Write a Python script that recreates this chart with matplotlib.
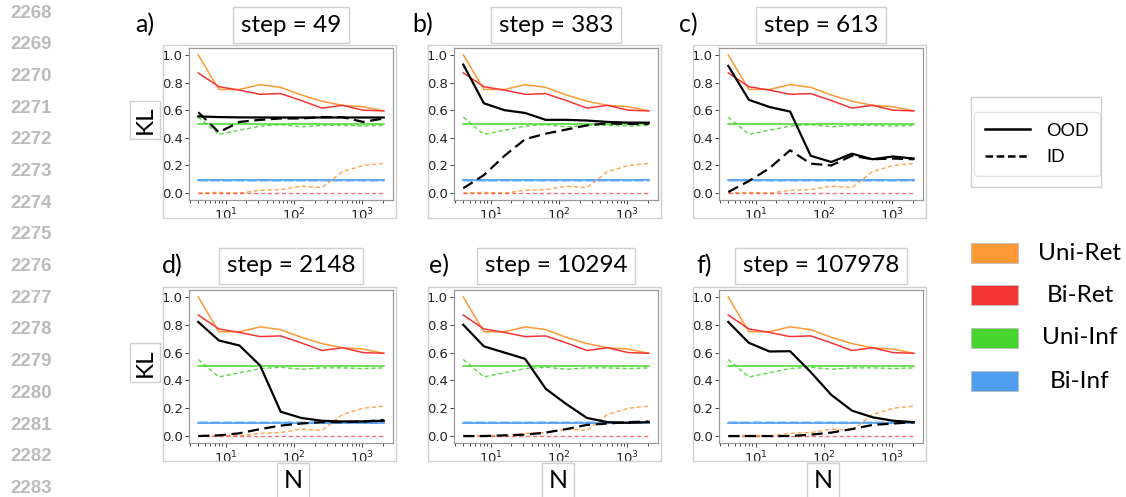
import matplotlib
matplotlib.use('Agg')
import matplotlib.pyplot as plt
from matplotlib.patches import Rectangle
from matplotlib.lines import Line2D

# Tamaño de la figura en pixeles
W, H = 1126, 497

# Datos: KL en funcion de N
N = [4, 8, 16, 32, 64, 128, 256, 512, 1024, 2048]

uni_ret_ood = [1.0, 0.75, 0.75, 0.785, 0.765, 0.71, 0.665, 0.635, 0.625, 0.595]
uni_ret_id = [0.0, 0.005, 0.0, 0.02, 0.025, 0.05, 0.04, 0.155, 0.2, 0.215]
bi_ret_ood = [0.87, 0.77, 0.745, 0.715, 0.72, 0.67, 0.615, 0.635, 0.6, 0.595]
bi_ret_id = [0.0, 0.0, 0.0, 0.0, 0.0, 0.0, 0.0, 0.0, 0.0, 0.0]
uni_inf_ood = [0.5, 0.5, 0.5, 0.5, 0.5, 0.5, 0.5, 0.5, 0.5, 0.5]
uni_inf_id = [0.55, 0.425, 0.455, 0.485, 0.495, 0.48, 0.49, 0.49, 0.485, 0.49]
bi_inf_ood = [0.093, 0.093, 0.093, 0.093, 0.093, 0.093, 0.093, 0.093, 0.093, 0.093]
bi_inf_id = [0.098, 0.098, 0.098, 0.098, 0.098, 0.098, 0.098, 0.098, 0.098, 0.098]

steps = [49, 383, 613, 2148, 10294, 107978]
etiquetas = ['a)', 'b)', 'c)', 'd)', 'e)', 'f)']

ood_a = [0.555, 0.55, 0.548, 0.547, 0.547, 0.547, 0.547, 0.547, 0.547, 0.547]
id_a = [0.585, 0.44, 0.515, 0.53, 0.54, 0.54, 0.55, 0.55, 0.515, 0.54]
ood_b = [0.93, 0.65, 0.6, 0.58, 0.53, 0.53, 0.525, 0.515, 0.51, 0.51]
id_b = [0.035, 0.13, 0.27, 0.39, 0.43, 0.46, 0.49, 0.505, 0.5, 0.5]
ood_c = [0.92, 0.675, 0.623, 0.59, 0.27, 0.225, 0.285, 0.245, 0.265, 0.25]
id_c = [0.008, 0.087, 0.18, 0.31, 0.213, 0.2, 0.27, 0.245, 0.25, 0.245]
ood_d = [0.82, 0.687, 0.651, 0.507, 0.175, 0.13, 0.11, 0.105, 0.105, 0.11]
id_d = [0.0, 0.005, 0.02, 0.05, 0.075, 0.09, 0.1, 0.1, 0.105, 0.115]
ood_e = [0.8, 0.645, 0.6, 0.555, 0.34, 0.23, 0.13, 0.1, 0.095, 0.1]
id_e = [0.0, 0.0, 0.005, 0.01, 0.025, 0.05, 0.08, 0.09, 0.1, 0.105]
ood_f = [0.82, 0.67, 0.608, 0.61, 0.46, 0.296, 0.183, 0.135, 0.11, 0.1]
id_f = [0.0, 0.0, 0.0, 0.0, 0.01, 0.025, 0.05, 0.08, 0.09, 0.1]

curvas_ood = [ood_a, ood_b, ood_c, ood_d, ood_e, ood_f]
curvas_id = [id_a, id_b, id_c, id_d, id_e, id_f]

categorias = ['Uni-Ret', 'Bi-Ret', 'Uni-Inf', 'Bi-Inf']
colores = ['#fd9a35', '#f43535', '#46d52d', '#509eef']

fuente = 'Lato'


def rect_px(x0, y0, x1, y1):
    # pasa una caja en pixeles (origen arriba a la izquierda) a coordenadas de figura
    return (x0 / W, 1 - y1 / H), (x1 - x0) / W, (y1 - y0) / H


def marco(fig, x0, y0, x1, y1, color='#cfcfcf', **kw):
    xy, w, h = rect_px(x0, y0, x1, y1)
    r = Rectangle(xy, w, h, transform=fig.transFigure, fill=False,
                  ec=color, lw=1, **kw)
    fig.add_artist(r)
    return r


fig = plt.figure(figsize=(W / 100, H / 100), dpi=100)

# Numeros de linea a la izquierda
for i in range(16):
    fig.text(10 / W, 1 - (13 + 31.7 * i) / H, str(2268 + i), color='#bbbbbb',
             fontsize=13.5, fontweight='bold', family='Liberation Sans',
             va='center', ha='left')

izquierdas = [189, 454, 719]
arribas = [48, 290]
abajos = [200, 443]
x_etiqueta = [[135, 412, 679], [162, 429, 696]]
y_titulo = [25, 266]

for k in range(6):
    fila, col = k // 3, k % 3
    x0 = izquierdas[col]
    x1 = x0 + 204
    y0, y1 = arribas[fila], abajos[fila]

    # Marco gris alrededor de cada panel
    marco(fig, x0 - 26, y0 - 3, x1 + 3, y1 + 18)

    xy, w, h = rect_px(x0, y0, x1, y1)
    ax = fig.add_axes([xy[0], xy[1], w, h])

    # Lineas de referencia
    ax.plot(N, uni_ret_ood, color=colores[0], lw=1.1)
    ax.plot(N, bi_ret_ood, color=colores[1], lw=1.1)
    ax.plot(N, uni_inf_ood, color=colores[2], lw=1.1)
    ax.plot(N, bi_inf_ood, color=colores[3], lw=1.2)
    ax.plot(N, uni_ret_id, color=colores[0], lw=1, ls=(0, (3, 2)), alpha=0.9)
    ax.plot(N, bi_ret_id, color=colores[1], lw=1, ls=(0, (3, 2)), alpha=0.7)
    ax.plot(N, uni_inf_id, color=colores[2], lw=1, ls=(0, (3, 2)), alpha=0.9)
    ax.plot(N, bi_inf_id, color=colores[3], lw=2.2, ls=(0, (3, 1)), alpha=0.45)

    # Modelo: OOD y ID
    ax.plot(N, curvas_ood[k], color='black', lw=1.6)
    ax.plot(N, curvas_id[k], color='black', lw=1.6, ls=(0, (5, 2.5)))

    ax.set_xscale('log')
    ax.set_yticks([0.0, 0.2, 0.4, 0.6, 0.8, 1.0])
    ax.tick_params(labelsize=9.5, length=3, width=0.6, colors='#222222',
                   pad=1.5)
    ax.tick_params(which='minor', length=1.8, width=0.5)
    for s in ax.spines.values():
        s.set_color('#999999')
        s.set_linewidth(0.9)

    cx = (x0 + x1) / 2
    fig.text(cx / W, 1 - y_titulo[fila] / H, 'step = %d' % steps[k],
             ha='center', va='center', fontsize=17.5, family=fuente,
             zorder=5,
             bbox=dict(boxstyle='square,pad=0.32', fc='white', ec='#d0d0d0',
                       lw=1))
    fig.text(x_etiqueta[fila][col] / W, 1 - y_titulo[fila] / H, etiquetas[k],
             ha='left', va='center', fontsize=18, family=fuente)

    if col == 0:
        fig.text(145 / W, 1 - ((y0 + y1) / 2 - 4) / H, 'KL', rotation=90,
                 ha='center', va='center', fontsize=17.5, family=fuente,
                 bbox=dict(boxstyle='square,pad=0.2', fc='white',
                           ec='#d0d0d0', lw=1))
    if fila == 1:
        fig.text((cx + 2) / W, 1 - 481 / H, 'N', ha='center', va='center',
                 fontsize=18, family=fuente,
                 bbox=dict(boxstyle='square,pad=0.25', fc='white',
                           ec='#d0d0d0', lw=1))

# Leyenda de estilos de linea
marco(fig, 971, 97, 1101, 187)
handles = [Line2D([], [], color='black', lw=1.8),
           Line2D([], [], color='black', lw=1.8, ls=(0, (3, 1.5)))]
fig.legend(handles, ['OOD', 'ID'], loc='center',
           bbox_to_anchor=(1037 / W, 1 - 144 / H),
           prop={'family': fuente, 'size': 13}, handlelength=2.5,
           handletextpad=0.9, labelspacing=0.6, borderpad=0.6,
           edgecolor='#dddddd')

# Leyenda de colores
centros = [253, 295, 338, 381]
for c, nombre, yc in zip(colores, categorias, centros):
    xy, w, h = rect_px(971, yc - 10, 1018, yc + 10)
    fig.add_artist(Rectangle(xy, w, h, transform=fig.transFigure,
                             fc=c, ec='#bbbbbb', lw=0.6))
    fig.text(1080 / W, 1 - yc / H, nombre, ha='center', va='center',
             fontsize=17.5, family=fuente)

fig.savefig('out.png', dpi=100)
